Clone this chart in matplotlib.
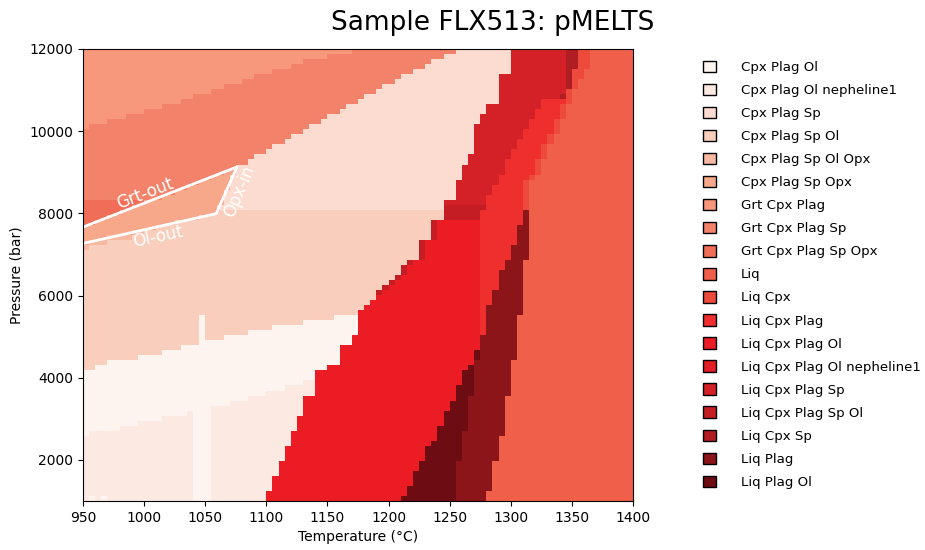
import numpy as np
import matplotlib
matplotlib.use("Agg")
import matplotlib.pyplot as plt
from matplotlib.colors import ListedColormap
from matplotlib.patches import Patch
from matplotlib.path import Path

phases = ["Cpx Plag Ol", "Cpx Plag Ol nepheline1", "Cpx Plag Sp", "Cpx Plag Sp Ol",
          "Cpx Plag Sp Ol Opx", "Cpx Plag Sp Opx", "Grt Cpx Plag", "Grt Cpx Plag Sp",
          "Grt Cpx Plag Sp Opx", "Liq", "Liq Cpx", "Liq Cpx Plag", "Liq Cpx Plag Ol",
          "Liq Cpx Plag Ol nepheline1", "Liq Cpx Plag Sp", "Liq Cpx Plag Sp Ol",
          "Liq Cpx Sp", "Liq Plag", "Liq Plag Ol"]

# one shade of red per assemblage, light -> dark
phase_colors = ["#fdf3ef", "#fce9e1", "#fcdcd0", "#f9cebd", "#f8b9a2", "#f7a78a",
                "#f7977b", "#f3826a", "#f06e57", "#f05f4a", "#ee4a3b", "#ee2f2e",
                "#ec1c24", "#e21d25", "#d42027", "#c41e24", "#b01d22", "#8b1519",
                "#6e0c14"]

# model grid: 5 C by ~122 bar
T_edges = np.arange(950, 1401, 5)
P_edges = np.linspace(1000, 12000, 91)

# ---- field boundaries ----
# stepped boundaries, P level as a function of T (start T, level)
neph_top_T = [950, 955, 980, 995, 1015, 1035, 1055, 1070, 1085, 1100, 1115, 1130]
neph_top_P = [2634, 2732, 2854, 2976, 3098, 3220, 3300, 3432, 3544, 3666, 3788, 3903]
ol_top_T = [950, 960, 970, 985, 995, 1015, 1030, 1050, 1065, 1085, 1105, 1130, 1155, 1175]
ol_top_P = [4129, 4251, 4366, 4470, 4585, 4715, 4837, 4951, 5073, 5171, 5285, 5415, 5529, 5659]

# liquid-bearing fields, T edge as a function of P (start P, T)
liq_in_P = [1000, 1251, 1578, 1944, 2285, 2732, 3098, 3544, 4154, 4358, 4846, 5073, 5659,
            5764, 5862, 6090, 6212, 6325, 6456, 6700, 6813, 6919, 7407, 7854, 8317, 8788,
            9237, 9480, 10170, 10415, 10659, 11334]
liq_in_T = [1100, 1105, 1110, 1115, 1120, 1125, 1130, 1140, 1150, 1160, 1170, 1175, 1180,
            1185, 1190, 1195, 1200, 1205, 1210, 1215, 1220, 1225, 1235, 1245, 1255, 1260,
            1265, 1270, 1275, 1280, 1290, 1300]
liq_only_P = [1000, 1251, 1934, 2634, 3544, 4471, 5537, 6878, 8788, 8993, 9359, 9683, 9968,
              10293, 10659, 10983, 11310, 11554]
liq_only_T = [1280, 1285, 1290, 1295, 1300, 1305, 1310, 1315, 1320, 1325, 1330, 1335, 1340,
              1345, 1350, 1355, 1360, 1365]
plag_ol_left_P = [1000, 1122, 1349, 1700, 1934, 2285, 2505, 2854, 3203, 3422, 3788, 4129,
                  4358, 4707]
plag_ol_left_T = [1210, 1215, 1220, 1225, 1230, 1235, 1240, 1245, 1250, 1255, 1260, 1265,
                  1270, 1275]
plag_ol_top = 5073
plag_left_P = [1000, 1934, 2732, 3544, 4471, 5073, 5764, 6105, 6578, 6919, 7268, 7732]
plag_left_T = [1255, 1260, 1265, 1270, 1275, 1280, 1285, 1290, 1295, 1300, 1305, 1310]
plag_top = 8098
cpx_plag_left_P = [1000, 8098, 8422, 8666, 9000, 9360, 9600, 9805, 10049, 10293, 10537]
cpx_plag_left_T = [1275, 1280, 1285, 1290, 1295, 1300, 1305, 1310, 1315, 1320, 1325]
cpx_plag_bottom = 5073
cpx_plag_top = 10739
sp_band_bottom = 7854
sp_band_top = 8200
sp_strip_bottom = 6000

# smooth subsolidus boundaries (T, P)
grt_top_line = [(950, 10050), (1010, 10540), (1080, 11230), (1130, 11680), (1180, 12000)]
grt_sp_low_line = [(1076, 9130), (1140, 10146), (1197, 11105), (1258, 12000)]
pink_floor = 8100

# labelled reaction lines
grt_out_T, grt_out_P = [950, 1076], [7666, 9130]
opx_in_T, opx_in_P = [1076, 1059], [9130, 7993]
ol_out_T, ol_out_P = [1059, 950], [7993, 7268]

# ---- build the field grid ----
Tc = 0.5 * (T_edges[1:] + T_edges[:-1])
Pc = 0.5 * (P_edges[1:] + P_edges[:-1])
TT, PP = np.meshgrid(Tc, Pc)
pts = np.column_stack([TT.ravel(), PP.ravel()])


def step(x, starts, values):
    i = np.searchsorted(starts, x, side="right") - 1
    i = np.clip(i, 0, len(values) - 1)
    return np.asarray(values)[i]


def inside(verts):
    return Path(verts).contains_points(pts).reshape(TT.shape)


Z = np.full(TT.shape, 3)
neph = step(TT, neph_top_T, neph_top_P)
oltop = step(TT, ol_top_T, ol_top_P)
Z[PP < neph] = 1
Z[(PP >= neph) & (PP < oltop)] = 0
Z[(TT > 1040) & (TT < 1055) & (PP < oltop)] = 0
Z[(TT > 1045) & (TT < 1050) & (PP < 5530)] = 0
Z[(((TT > 955) & (TT < 960)) | ((TT > 965) & (TT < 970))) & (PP < 1122)] = 0

Z[inside([(950, 7150), (950, 7268), (1000, 7600), (1000, 7480)])] = 4
Z[inside([(opx_in_T[1], pink_floor)] + grt_sp_low_line + [(1400, 12000), (1400, pink_floor)])] = 2
Z[inside(list(zip(grt_out_T + opx_in_T[1:] + ol_out_T[1:], grt_out_P + opx_in_P[1:] + ol_out_P[1:])))] = 5
Z[inside([(950, 7666)] + grt_sp_low_line + grt_top_line[::-1])] = 7
Z[inside([(950, 7666), (950, 8300), (1004, 8300)])] = 8
Z[inside(grt_top_line + [(950, 12000)])] = 6

liq = TT > step(PP, liq_in_P, liq_in_T)
liq_r = step(PP, liq_only_P, liq_only_T)
cpl = step(PP, cpx_plag_left_P, cpx_plag_left_T)
Z[liq] = 12
Z[liq & (TT < step(PP, liq_in_P, liq_in_T) + 5) & (PP >= sp_strip_bottom)] = 15
Z[liq & (PP >= sp_band_bottom) & (TT < cpl)] = 15
Z[liq & (TT > cpl) & (PP >= cpx_plag_bottom) & (PP < cpx_plag_top)] = 11
Z[liq & (PP >= sp_band_top) & (((TT < cpl) & (PP < cpx_plag_top)) | ((TT < 1345) & (PP >= cpx_plag_top)))] = 14
Z[liq & (PP >= plag_top) & (PP < cpx_plag_top) & (TT > liq_r - 5)] = 10
Z[liq & (PP >= cpx_plag_top) & (TT > 1345)] = 10
Z[(TT > 1345) & (TT < 1355) & (PP >= 11472)] = 16
Z[(TT > 1345) & (TT < 1350) & (PP >= 10983)] = 16
Z[(TT > 1340) & (TT < 1345) & (PP >= 10739) & (PP < 10861)] = 16
Z[(TT > step(PP, plag_ol_left_P, plag_ol_left_T)) & (PP < plag_ol_top)] = 18
Z[(TT > step(PP, plag_left_P, plag_left_T)) & (PP < plag_top)] = 17
Z[TT > liq_r] = 9

cmap = ListedColormap(phase_colors)

fig = plt.figure(figsize=(9.25, 5.5), dpi=100)
ax = fig.add_axes([83 / 925, 49 / 550, 550 / 925, 452 / 550])
ax.pcolormesh(T_edges, P_edges, Z, cmap=cmap, vmin=-0.5, vmax=len(phases) - 0.5,
              shading="flat", edgecolors="none", antialiased=False)

ax.plot(grt_out_T + opx_in_T[1:] + ol_out_T[1:], grt_out_P + opx_in_P[1:] + ol_out_P[1:],
        color="white", lw=2)
ax.text(1001, 8488, "Grt-out", color="white", fontsize=12, rotation=21,
        ha="center", va="center")
ax.text(1011, 7426, "Ol-out", color="white", fontsize=12, rotation=12,
        ha="center", va="center")
ax.text(1078, 8524, "Opx-in", color="white", fontsize=12, rotation=67,
        ha="center", va="center")

ax.set_xlim(950, 1400)
ax.set_ylim(1000, 12000)
ax.set_xticks(np.arange(950, 1401, 50))
ax.set_yticks(np.arange(2000, 12001, 2000))
ax.set_xlabel("Temperature (°C)")
ax.set_ylabel("Pressure (bar)")

fig.text(0.533, 0.958, "Sample FLX513: pMELTS", ha="center", va="center", fontsize=19)

handles = [Patch(facecolor=phase_colors[i], edgecolor="black", label=phases[i])
           for i in range(len(phases))]
fig.legend(handles=handles, loc="upper left", bbox_to_anchor=(0.76, 0.89),
           frameon=False, fontsize=9.6, handlelength=0.95, handleheight=0.95,
           handletextpad=1.9, labelspacing=0.73, borderpad=0, borderaxespad=0)

fig.savefig("out.png", dpi=100)
